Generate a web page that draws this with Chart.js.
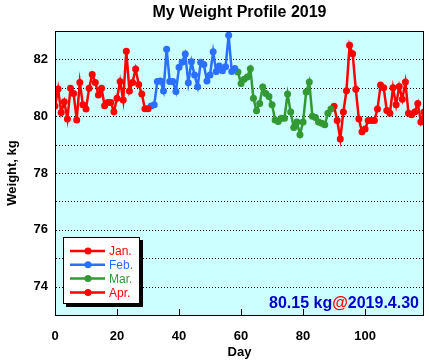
<!DOCTYPE html>
<html>
<head>
<meta charset="utf-8">
<script src="https://cdn.jsdelivr.net/npm/chart.js@4.4.1/dist/chart.umd.min.js"></script>
<style>
html,body{margin:0;padding:0;background:#fff;}
#wrap{width:429px;height:364px;}
</style>
</head>
<body>
<div id="wrap"><canvas id="c" width="429" height="364"></canvas></div>
<script>
// ---- data ----
const monthLabels = ['Jan.', 'Feb.', 'Mar.', 'Apr.'];
const monthStartDay = [0, 31, 59, 90];
const janWeight = [80.36, 80.96, 80.13, 80.51, 79.9, 80.98, 80.8, 79.87, 81.19, 80.4, 80.25, 80.98, 81.47, 81.19, 80.75, 80.98, 80.37, 80.48, 80.48, 80.16, 80.63, 81.22, 80.57, 82.29, 80.89, 81.19, 81.66, 81.12, 80.78, 80.26, 80.26];
const febWeight = [80.36, 80.4, 81.22, 81.24, 80.89, 82.36, 81.22, 81.22, 80.87, 81.72, 81.9, 82.19, 81.18, 81.92, 81.45, 81.04, 81.9, 81.82, 81.24, 81.45, 82.27, 81.57, 81.77, 81.6, 81.74, 82.85, 81.57, 81.68];
const marWeight = [81.56, 81.15, 81.3, 81.38, 81.67, 80.63, 80.19, 80.45, 81.03, 80.8, 80.69, 80.4, 79.87, 79.81, 79.93, 79.93, 80.78, 80.15, 79.6, 79.8, 79.35, 79.8, 80.85, 81.2, 80.0, 79.95, 79.8, 79.75, 79.7, 80.1, 80.25];
const aprWeight = [80.35, 79.85, 79.2, 80.15, 80.9, 82.5, 82.2, 80.95, 79.9, 79.45, 79.55, 79.85, 79.85, 79.85, 80.25, 81.1, 81.0, 80.2, 80.1, 81.0, 80.4, 81.05, 80.6, 81.2, 80.1, 80.05, 80.15, 80.45, 79.8, 80.15];
const xTickValues = [0, 20, 40, 60, 80, 100];
const yTickLabels = [74, 76, 78, 80, 82];
const yGridValues = [74, 75, 76, 77, 78, 79, 80, 81, 82];
const latestText = ['80.15 kg', '@', '2019.4.30'];

const seriesValues = [janWeight, febWeight, marWeight, aprWeight];
const seriesColors = ['#ff0000', '#2b6fff', '#339933', '#ff0000'];

const datasets = seriesValues.map((vals, k) => ({
  label: monthLabels[k],
  data: vals.map((v, i) => ({x: monthStartDay[k] + i, y: v})),
  borderColor: seriesColors[k],
  backgroundColor: seriesColors[k],
  pointBackgroundColor: seriesColors[k],
  pointBorderColor: seriesColors[k],
  pointRadius: 3.5,
  pointBorderWidth: 0,
  borderWidth: 2.5,
  tension: 0
}));

const FONT = '"Liberation Sans", Arial, sans-serif';

const decor = {
  id: 'decor',
  beforeDatasetsDraw(chart) {
    const {ctx, chartArea: a, scales} = chart;
    ctx.save();
    ctx.fillStyle = '#ccffff';
    ctx.fillRect(a.left, a.top, a.right - a.left, a.bottom - a.top);
    ctx.strokeStyle = '#000';
    ctx.lineWidth = 1;
    ctx.setLineDash([1, 2]);
    yGridValues.forEach(v => {
      const py = Math.round(scales.y.getPixelForValue(v)) + 0.5;
      ctx.beginPath();
      ctx.moveTo(a.left + 1, py);
      ctx.lineTo(a.right, py);
      ctx.stroke();
    });
    ctx.restore();
  },
  afterDraw(chart) {
    const {ctx, chartArea: a, scales} = chart;
    ctx.save();
    // border
    ctx.strokeStyle = '#000';
    ctx.lineWidth = 1;
    ctx.strokeRect(a.left + 0.5, a.top + 0.5, a.right - a.left - 1, a.bottom - a.top);
    // inward x ticks
    xTickValues.forEach(v => {
      const px = Math.round(scales.x.getPixelForValue(v)) + 0.5;
      ctx.beginPath();
      ctx.moveTo(px, a.bottom);
      ctx.lineTo(px, a.bottom - 6);
      ctx.stroke();
    });
    // title
    ctx.fillStyle = '#000';
    ctx.font = 'bold 16px ' + FONT;
    ctx.textAlign = 'center';
    ctx.textBaseline = 'middle';
    ctx.fillText('My Weight Profile 2019', (a.left + a.right) / 2, 13);
    // axis titles
    ctx.font = 'bold 13px ' + FONT;
    ctx.fillText('Day', (a.left + a.right) / 2, 352);
    ctx.save();
    ctx.translate(12, 173);
    ctx.rotate(-Math.PI / 2);
    ctx.fillText('Weight, kg', 0, 0);
    ctx.restore();
    // legend
    const lx = 63, ly = 237, lw = 77, lh = 67;
    ctx.fillStyle = '#000';
    ctx.fillRect(lx + 3, ly + 3, lw, lh);
    ctx.fillStyle = '#fff';
    ctx.fillRect(lx, ly, lw, lh);
    ctx.strokeStyle = '#000';
    ctx.strokeRect(lx + 0.5, ly + 0.5, lw - 1, lh - 1);
    ctx.font = '12px ' + FONT;
    ctx.textAlign = 'left';
    chart.data.datasets.forEach((ds, k) => {
      const y = 251 + k * 13.8;
      ctx.strokeStyle = ds.borderColor;
      ctx.lineWidth = 2.5;
      ctx.beginPath();
      ctx.moveTo(70, y);
      ctx.lineTo(105, y);
      ctx.stroke();
      ctx.fillStyle = ds.borderColor;
      ctx.beginPath();
      ctx.arc(88, y, 3.5, 0, Math.PI * 2);
      ctx.fill();
      ctx.fillText(ds.label, 109, y + 1);
    });
    // latest annotation
    ctx.font = 'bold 16px ' + FONT;
    ctx.textBaseline = 'alphabetic';
    const w0 = ctx.measureText(latestText[0]).width;
    const w1 = ctx.measureText(latestText[1]).width;
    const w2 = ctx.measureText(latestText[2]).width;
    let x = 419 - (w0 + w1 + w2);
    ctx.fillStyle = '#0000cc';
    ctx.fillText(latestText[0], x, 308);
    ctx.fillStyle = '#ff0000';
    ctx.fillText(latestText[1], x + w0, 308);
    ctx.fillStyle = '#0000cc';
    ctx.fillText(latestText[2], x + w0 + w1, 308);
    ctx.restore();
  }
};

new Chart(document.getElementById('c'), {
  type: 'line',
  data: {datasets},
  options: {
    responsive: false,
    animation: false,
    layout: {padding: {top: 31, right: 5, left: 0, bottom: 0}},
    plugins: {legend: {display: false}, tooltip: {enabled: false}, title: {display: false}},
    scales: {
      x: {
        type: 'linear',
        min: 0, max: 119,
        afterFit(s) { s.height = 49; },
        afterBuildTicks(s) { s.ticks = xTickValues.map(v => ({value: v})); },
        grid: {display: false},
        border: {display: false},
        ticks: {color: '#000', font: {family: FONT, size: 13, weight: 'bold'}, padding: 6, maxRotation: 0}
      },
      y: {
        min: 73, max: 83,
        afterFit(s) { s.width = 55; },
        ticks: {
          stepSize: 1,
          color: '#000',
          font: {family: FONT, size: 13, weight: 'bold'},
          padding: 7,
          callback: v => yTickLabels.includes(v) ? String(v) : ''
        },
        grid: {display: false, drawTicks: false},
        border: {display: false}
      }
    }
  },
  plugins: [decor]
});
</script>
</body>
</html>
